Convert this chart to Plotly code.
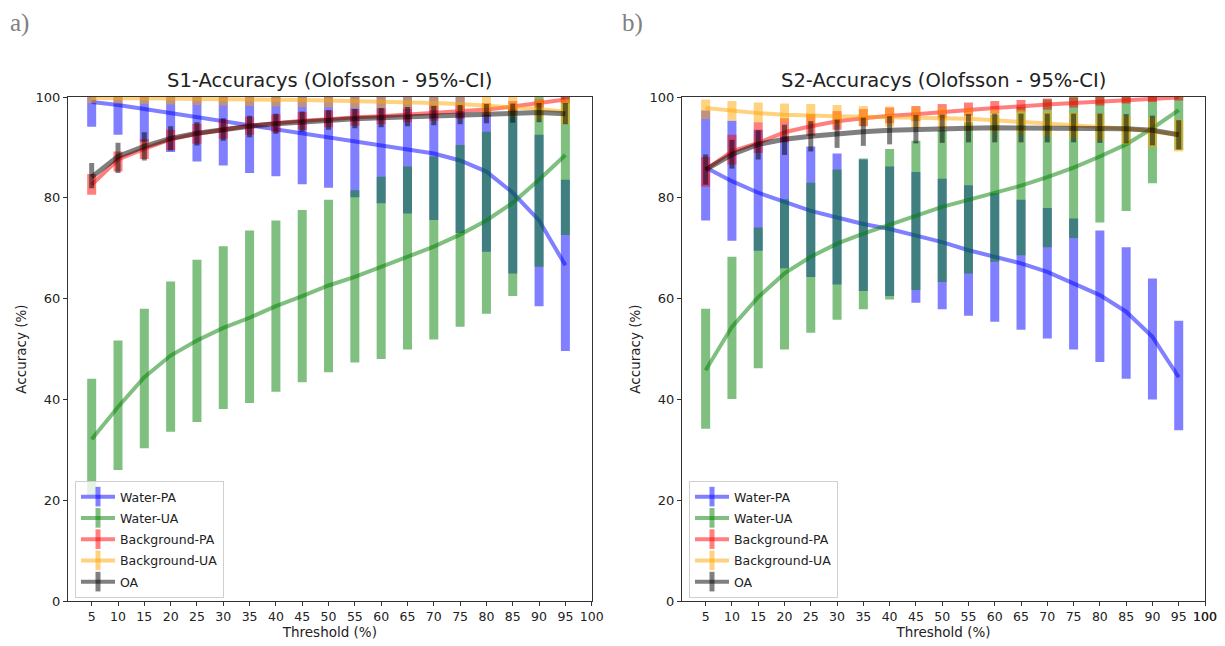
import numpy as np
import plotly.graph_objects as go

thresholds = [5, 10, 15, 20, 25, 30, 35, 40, 45, 50, 55, 60, 65, 70, 75, 80, 85, 90, 95]
x_ticks = [5, 10, 15, 20, 25, 30, 35, 40, 45, 50, 55, 60, 65, 70, 75, 80, 85, 90, 95, 100]
y_ticks = [0, 20, 40, 60, 80, 100]
series_names = ["Water-PA", "Water-UA", "Background-PA", "Background-UA", "OA"]

# ---------------- S1 ----------------
s1_wpa = [99.0, 98.4, 97.6, 96.8, 96.0, 95.2, 94.4, 93.6, 92.8, 92.0, 91.2, 90.4, 89.5, 88.8, 87.4, 85.2, 81.0, 75.5, 66.6]
s1_wpa_lo = [94.1, 92.5, 91.1, 89.1, 87.2, 86.4, 84.9, 84.3, 82.7, 82.0, 80.1, 78.9, 76.9, 75.6, 73.0, 69.3, 65.0, 58.5, 49.6]
s1_wpa_hi = [100, 100, 100, 100, 100, 100, 100, 100, 100, 100, 100, 100, 100, 100, 100, 96.5, 98.0, 92.5, 83.6]

s1_wua = [32.1, 38.5, 44.4, 48.7, 51.7, 54.2, 56.2, 58.5, 60.5, 62.6, 64.3, 66.3, 68.3, 70.3, 72.7, 75.5, 79.0, 83.6, 88.5]
s1_wua_lo = [21.0, 26.0, 30.3, 33.6, 35.5, 38.1, 39.3, 41.5, 43.4, 45.4, 47.3, 48.0, 49.9, 51.9, 54.4, 57.0, 60.5, 66.3, 72.6]
s1_wua_hi = [44.1, 51.7, 58.0, 63.4, 67.7, 70.4, 73.5, 75.5, 77.6, 79.6, 81.5, 84.2, 86.2, 88.2, 90.5, 93.1, 98.1, 100, 100]

s1_bpa = [82.6, 87.6, 89.7, 91.6, 92.7, 93.6, 94.3, 94.8, 95.3, 95.6, 96.0, 96.2, 96.5, 96.8, 97.1, 97.5, 98.1, 98.7, 99.5]
s1_bpa_lo = [80.6, 85.2, 87.7, 89.5, 90.7, 91.7, 92.5, 93.0, 93.5, 94.0, 94.3, 94.6, 95.0, 95.3, 95.7, 96.2, 97.0, 97.8, 98.7]
s1_bpa_hi = [84.7, 89.2, 91.6, 93.5, 94.7, 95.5, 96.1, 96.6, 97.0, 97.3, 97.6, 97.8, 98.0, 98.3, 98.5, 98.8, 99.2, 99.6, 100]

s1_bua = [99.8, 99.8, 99.7, 99.7, 99.6, 99.6, 99.5, 99.5, 99.4, 99.3, 99.2, 99.1, 99.0, 98.8, 98.6, 98.3, 98.0, 97.6, 97.1]
s1_bua_lo = [98.8, 98.7, 98.6, 98.5, 98.4, 98.3, 98.2, 98.1, 98.0, 97.9, 97.8, 97.7, 97.6, 97.4, 97.2, 96.7, 96.2, 95.6, 94.6]
s1_bua_hi = [100, 100, 100, 100, 100, 100, 100, 100, 100, 100, 100, 100, 100, 100, 100, 100, 100, 99.6, 99.5]

s1_oa = [84.1, 88.2, 90.2, 91.8, 92.8, 93.6, 94.2, 94.7, 95.1, 95.4, 95.7, 95.9, 96.1, 96.3, 96.5, 96.7, 96.8, 96.9, 96.7]
s1_oa_lo = [81.9, 84.9, 87.4, 89.4, 90.4, 91.3, 92.0, 92.7, 93.1, 93.5, 93.8, 94.0, 94.2, 94.4, 94.6, 94.8, 94.9, 95.0, 94.6]
s1_oa_hi = [86.9, 90.9, 93.0, 94.2, 95.0, 95.8, 96.3, 96.7, 97.1, 97.4, 97.6, 97.8, 98.0, 98.2, 98.4, 98.6, 98.7, 98.8, 98.8]

# ---------------- S2 ----------------
s2_wpa = [86.0, 83.3, 81.0, 79.1, 77.4, 76.1, 74.8, 73.8, 72.5, 71.2, 69.6, 68.3, 67.0, 65.3, 63.0, 60.7, 57.4, 52.4, 44.4]
s2_wpa_lo = [75.5, 71.5, 69.5, 66.0, 64.3, 62.8, 61.5, 60.5, 59.2, 57.9, 56.6, 55.4, 53.8, 52.1, 49.9, 47.4, 44.1, 40.0, 33.9]
s2_wpa_hi = [97.3, 95.3, 93.5, 92.2, 90.2, 88.8, 87.6, 86.2, 85.1, 83.8, 82.5, 80.9, 79.6, 78.0, 75.9, 73.5, 70.2, 64.0, 55.6]

s2_wua = [45.8, 54.4, 60.3, 65.0, 68.3, 70.9, 72.9, 74.6, 76.3, 78.2, 79.6, 81.0, 82.4, 84.1, 86.0, 88.2, 90.6, 93.8, 97.4]
s2_wua_lo = [34.2, 40.1, 46.2, 49.9, 53.2, 55.8, 57.9, 59.8, 61.7, 63.3, 65.0, 67.3, 68.6, 70.2, 72.0, 75.1, 77.4, 82.9, 89.5]
s2_wua_hi = [58.0, 68.3, 74.1, 79.7, 83.0, 85.6, 87.8, 89.7, 91.3, 93.4, 95.0, 96.5, 98.0, 99.5, 100, 100, 100, 100, 100]

s2_bpa = [85.6, 89.2, 90.9, 93.0, 94.2, 95.2, 95.8, 96.3, 96.6, 97.1, 97.4, 97.8, 98.2, 98.5, 98.8, 99.1, 99.4, 99.7, 99.9]
s2_bpa_lo = [82.2, 86.6, 88.9, 91.0, 92.3, 93.5, 94.2, 94.8, 95.2, 95.8, 96.2, 96.7, 97.1, 97.5, 97.9, 98.3, 98.7, 99.0, 99.3]
s2_bpa_hi = [88.1, 92.5, 95.0, 95.8, 96.6, 97.2, 97.6, 97.9, 98.2, 98.6, 98.9, 99.2, 99.4, 99.7, 99.9, 100, 100, 100, 100]

s2_bua = [97.8, 97.3, 96.8, 96.5, 96.3, 96.2, 96.1, 96.0, 96.0, 95.9, 95.7, 95.4, 95.1, 94.8, 94.5, 94.2, 93.7, 93.2, 92.5]
s2_bua_lo = [95.6, 95.3, 95.0, 95.0, 94.8, 94.5, 94.3, 94.1, 93.9, 93.7, 93.4, 93.1, 92.7, 92.3, 91.9, 91.4, 90.6, 90.0, 89.2]
s2_bua_hi = [99.5, 99.2, 98.9, 98.7, 98.6, 98.4, 98.2, 98.1, 98.0, 97.9, 97.8, 97.6, 97.4, 97.2, 96.9, 96.7, 96.3, 95.9, 95.5]

s2_oa = [85.6, 88.6, 90.6, 91.6, 92.2, 92.7, 93.1, 93.4, 93.6, 93.7, 93.8, 93.9, 93.9, 93.9, 93.9, 93.8, 93.7, 93.4, 92.5]
s2_oa_lo = [82.6, 85.8, 87.6, 88.5, 89.2, 89.9, 90.3, 90.6, 90.8, 90.9, 91.0, 91.0, 91.0, 91.0, 91.0, 90.9, 90.8, 90.4, 89.6]
s2_oa_hi = [88.6, 91.5, 93.4, 94.5, 95.2, 95.5, 95.9, 96.2, 96.4, 96.5, 96.6, 96.7, 96.7, 96.7, 96.7, 96.7, 96.6, 96.3, 95.4]

colors = ["rgba(0,0,255,0.5)", "rgba(0,128,0,0.5)", "rgba(255,0,0,0.5)",
          "rgba(255,165,0,0.5)", "rgba(0,0,0,0.5)"]
bar_w = [9, 9, 9, 9, 5]
line_w = [4, 4, 4, 4, 5]

panels = [
    ("x", "y", "legend", [(s1_wpa, s1_wpa_lo, s1_wpa_hi), (s1_wua, s1_wua_lo, s1_wua_hi),
                          (s1_bpa, s1_bpa_lo, s1_bpa_hi), (s1_bua, s1_bua_lo, s1_bua_hi),
                          (s1_oa, s1_oa_lo, s1_oa_hi)]),
    ("x2", "y2", "legend2", [(s2_wpa, s2_wpa_lo, s2_wpa_hi), (s2_wua, s2_wua_lo, s2_wua_hi),
                             (s2_bpa, s2_bpa_lo, s2_bpa_hi), (s2_bua, s2_bua_lo, s2_bua_hi),
                             (s2_oa, s2_oa_lo, s2_oa_hi)]),
]

fig = go.Figure()
for xa, ya, leg, series in panels:
    for i, (v, lo, hi) in enumerate(series):
        v = np.array(v); lo = np.array(lo); hi = np.array(hi)
        fig.add_trace(go.Scatter(
            x=thresholds, y=v, mode="lines", xaxis=xa, yaxis=ya, showlegend=False,
            line=dict(color=colors[i], width=line_w[i]),
            error_y=dict(type="data", symmetric=False, array=hi - v, arrayminus=v - lo,
                         color=colors[i], thickness=bar_w[i], width=0),
            hoverinfo="skip"))
    for i, name in enumerate(series_names):
        fig.add_trace(go.Scatter(
            x=[None], y=[None], mode="lines+markers", name=name, legend=leg,
            legendgroup=f"{leg}_{i}", xaxis=xa, yaxis=ya,
            line=dict(color=colors[i], width=4),
            marker=dict(symbol="line-ns", size=14,
                        line=dict(color=colors[i], width=8 if i < 4 else 5))))

# the page shows the figure with an 8px body margin -> work in page pixels
OFF = 8
W, H = 1225, 646 - OFF
L = 68 - OFF
R = W - (1205 - OFF)
T = 97 - OFF
B = H - (601 - OFF)
pw = W - L - R
ph = H - T - B


def px(page_x):
    return (page_x - OFF - L) / pw


def py(page_y):
    return (H - B - (page_y - OFF)) / ph


d1 = [0, px(591.7)]
d2 = [px(682), 1]

FONT = "DejaVu Sans"
TICK_FONT = dict(family=FONT, size=12.5, color="#222")
axis_common = dict(showline=True, mirror=True, linecolor="#333", linewidth=1,
                   ticks="outside", ticklen=4, tickcolor="#333", showgrid=False,
                   zeroline=False, automargin=False, ticklabeloverflow="allow")

xcommon = dict(axis_common, range=[0.5, 100], tickmode="array", tickvals=x_ticks,
               tickfont=TICK_FONT,
               title=dict(text="Threshold (%)", font=dict(family=FONT, size=13.5, color="#222"), standoff=4))
ycommon = dict(axis_common, range=[0, 100], tickmode="array", tickvals=y_ticks,
               tickfont=dict(family=FONT, size=13, color="#222"),
               title=dict(text="Accuracy (%)", font=dict(family=FONT, size=13.5, color="#222"), standoff=5))

legend_common = dict(bgcolor="rgba(255,255,255,0.8)", bordercolor="#d0d0d0", borderwidth=1,
                     font=dict(family=FONT, size=12.5, color="#222"),
                     xanchor="left", yanchor="bottom", tracegroupgap=2, itemsizing="trace",
                     itemwidth=34)

annotations = [
    dict(text="S1-Accuracys (Olofsson - 95%-CI)", xref="paper", yref="paper",
         x=(d1[0] + d1[1]) / 2, y=py(81), xanchor="center", yanchor="middle",
         showarrow=False, font=dict(family=FONT, size=19.5, color="#222")),
    dict(text="S2-Accuracys (Olofsson - 95%-CI)", xref="paper", yref="paper",
         x=(d2[0] + d2[1]) / 2, y=py(81), xanchor="center", yanchor="middle",
         showarrow=False, font=dict(family=FONT, size=19.5, color="#222")),
    dict(text="a)", xref="paper", yref="paper", x=px(9), y=py(OFF),
         xanchor="left", yanchor="top", showarrow=False, borderpad=0,
         font=dict(family="Liberation Serif", size=25, color="#808080")),
    dict(text="b)", xref="paper", yref="paper", x=px(621), y=py(OFF),
         xanchor="left", yanchor="top", showarrow=False, borderpad=0,
         font=dict(family="Liberation Serif", size=25, color="#808080")),
    # the last x tick label of the right panel is dropped by plotly at the figure edge;
    # draw it at the same place the axis would
    dict(text=str(x_ticks[-1]), xref="x2", yref="paper", x=x_ticks[-1], y=0,
         xanchor="center", yanchor="top", yshift=-7, showarrow=False, borderpad=0,
         font=TICK_FONT),
]

fig.update_layout(
    width=W, height=H, margin=dict(l=L, r=R, t=T, b=B),
    paper_bgcolor="white", plot_bgcolor="white",
    xaxis=dict(xcommon, domain=d1, anchor="y"),
    yaxis=dict(ycommon, domain=[0, 1], anchor="x"),
    xaxis2=dict(xcommon, domain=d2, anchor="y2"),
    yaxis2=dict(ycommon, domain=[0, 1], anchor="x2"),
    legend=dict(legend_common, x=px(75), y=py(598)),
    legend2=dict(legend_common, x=px(689), y=py(598)),
    annotations=annotations,
)

fig.write_html("out.html")
